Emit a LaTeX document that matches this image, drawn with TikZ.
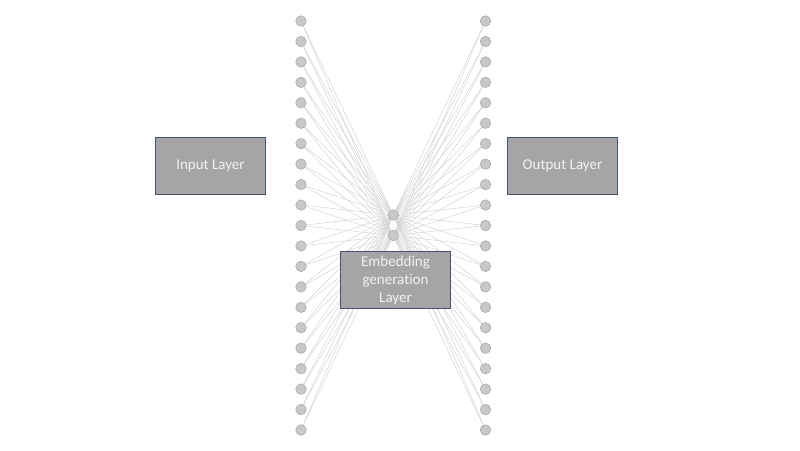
\documentclass[tikz,border=0pt]{standalone}
\usepackage{fontspec}
\setmainfont{Carlito}[Ligatures=NoCommon]
\usetikzlibrary{backgrounds}
\definecolor{boxgray}{HTML}{A5A5A5}
\definecolor{boxedge}{HTML}{44546A}
\definecolor{boxtext}{HTML}{F2F2F2}
\definecolor{unitfill}{HTML}{C8C8C8}
\definecolor{unitedge}{HTML}{ABABAB}
\definecolor{linkgray}{HTML}{D4D4D4}
\tikzset{
  unit/.style={circle, fill=unitfill, draw=unitedge, line width=0.6pt, minimum size=10.5pt, inner sep=0pt},
  layerbox/.style={rectangle, fill=boxgray, draw=boxedge, line width=0.8pt, text=boxtext,
    font=\fontsize{15}{18}\selectfont, align=center, minimum width=110pt, minimum height=56.5pt},
  link/.style={draw=linkgray, line width=0.5pt}
}
\begin{document}
\begin{tikzpicture}[x=1pt,y=-1pt]
\useasboundingbox (0,0) rectangle (800,450);
\node[layerbox] (input) at (210.5,166) {Input Layer};
\node[layerbox] (output) at (562.5,166) {Output Layer};
\foreach \i in {0,...,20}{
  \node[unit] (in\i) at (301,{21+20.45*\i}) {};
  \node[unit] (out\i) at (485.5,{21+20.45*\i}) {};
}
\node[unit] (h1) at (393.3,215) {};
\node[unit] (h2) at (393.3,235.5) {};
\begin{scope}[on background layer]
  \foreach \i in {0,...,20}{
    \draw[link] (in\i) -- (h1);
    \draw[link] (in\i) -- (h2);
    \draw[link] (h1) -- (out\i);
    \draw[link] (h2) -- (out\i);
  }
\end{scope}
\node[layerbox] (embed) at (395.5,280) {Embedding\\generation\\Layer};
\end{tikzpicture}
\end{document}
